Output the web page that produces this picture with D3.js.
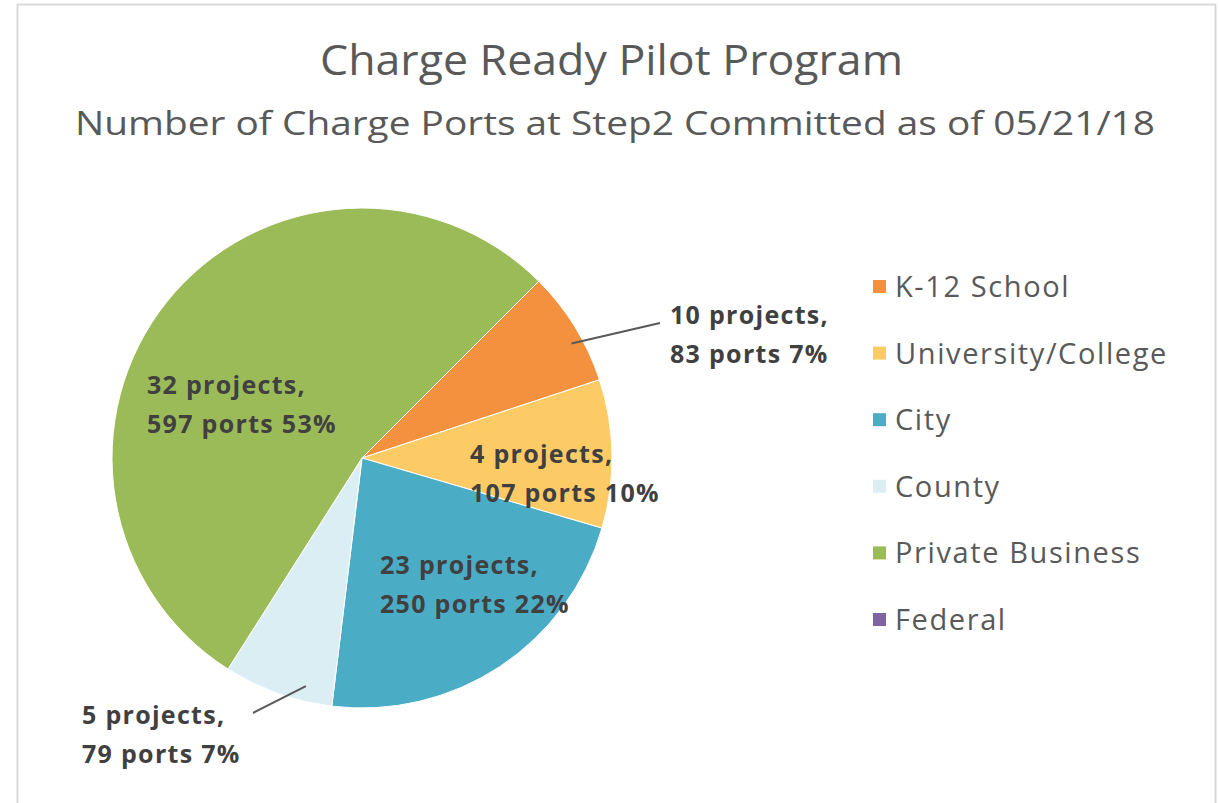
<!DOCTYPE html>
<html>
<head>
<meta charset="utf-8">
<script src="https://cdn.jsdelivr.net/npm/d3@7"></script>
<style>
  body { margin: 0; background: #fff; }
  text { font-family: "Open Sans", "Noto Sans", sans-serif; }
</style>
</head>
<body>
<div id="container"></div>
<script>
// DATA ###############################
const categories = ["K-12 School", "University/College", "City", "County", "Private Business", "Federal"];
const ports = [83, 107, 250, 79, 597, 0];
const projects = [10, 4, 23, 5, 32, 0];
const percents = ["7%", "10%", "22%", "7%", "53%", "0%"];
const colors = ["#F4913E", "#FDCB66", "#4BACC6", "#DAEEF3", "#9BBB59", "#8064A2"];

// CONSTANTS ###############################
const width = 1219, height = 803;
const cx = 362, cy = 458, radius = 250;

// label anchors (left x, first-line baseline) and leader line details
const labelLayout = {
  "K-12 School": { x: 670, y: 324, leader: { frac: 0.61, r: 0.955, x2: 660, y2: 323 } },
  "University/College": { x: 470, y: 463 },
  "City": { x: 380, y: 574 },
  "County": { x: 82, y: 724, leader: { frac: 0.27, r: 0.94, x2: 253, y2: 713 } },
  "Private Business": { x: 147, y: 394 }
};

const data = categories.map((c, i) => ({
  cat: c, ports: ports[i], projects: projects[i], pct: percents[i], color: colors[i]
}));

const svg = d3.select("#container")
  .append("svg")
  .attr("width", width)
  .attr("height", height);

svg.append("rect")
  .attr("width", width).attr("height", height).attr("fill", "#fff");

// chart frame
svg.append("rect")
  .attr("x", 17.5).attr("y", 4.5)
  .attr("width", 1198).attr("height", 820)
  .attr("fill", "none").attr("stroke", "#d9d9d9").attr("stroke-width", 2);

// TITLES
svg.append("text")
  .attr("x", 320).attr("y", 75)
  .attr("font-size", 42)
  .attr("fill", "#595959")
  .attr("textLength", 583)
  .attr("lengthAdjust", "spacingAndGlyphs")
  .text("Charge Ready Pilot Program");

svg.append("text")
  .attr("x", 75).attr("y", 135)
  .attr("font-size", 32)
  .attr("fill", "#595959")
  .attr("textLength", 1080)
  .attr("lengthAdjust", "spacingAndGlyphs")
  .text("Number of Charge Ports at Step2 Committed as of 05/21/18");

// PIE
const pie = d3.pie()
  .value(d => d.ports)
  .sort(null)
  .startAngle(Math.PI / 4)
  .endAngle(Math.PI / 4 + 2 * Math.PI);

const arc = d3.arc().innerRadius(0).outerRadius(radius);
const arcs = pie(data);

const g = svg.append("g").attr("transform", `translate(${cx},${cy})`);

g.selectAll("path.slice")
  .data(arcs.filter(d => d.data.ports > 0))
  .join("path")
  .attr("class", "slice")
  .attr("d", arc)
  .attr("fill", d => d.data.color)
  .attr("stroke", "#fff")
  .attr("stroke-width", 1);

// LEADER LINES
arcs.filter(d => d.data.ports > 0 && labelLayout[d.data.cat].leader).forEach(d => {
  const ld = labelLayout[d.data.cat].leader;
  const a = d.startAngle + ld.frac * (d.endAngle - d.startAngle);
  const r0 = radius * ld.r;
  svg.append("line")
    .attr("x1", cx + r0 * Math.sin(a)).attr("y1", cy - r0 * Math.cos(a))
    .attr("x2", ld.x2).attr("y2", ld.y2)
    .attr("stroke", "#595959").attr("stroke-width", 2);
});

// DATA LABELS
arcs.filter(d => d.data.ports > 0).forEach(d => {
  const L = labelLayout[d.data.cat];
  const t = svg.append("text")
    .attr("x", L.x).attr("y", L.y)
    .attr("font-size", 25)
    .attr("font-weight", "bold")
    .attr("letter-spacing", 1.3)
    .attr("fill", "#404040");
  t.append("tspan").attr("x", L.x).attr("dy", 0)
    .text(`${d.data.projects} projects,`);
  t.append("tspan").attr("x", L.x).attr("dy", 39)
    .text(`${d.data.ports} ports ${d.data.pct}`);
});

// LEGEND
const legend = svg.append("g").attr("transform", "translate(873,287)");
const row = legend.selectAll("g")
  .data(data)
  .join("g")
  .attr("transform", (d, i) => `translate(0,${i * 66.6})`);

row.append("rect")
  .attr("x", 0).attr("y", -7)
  .attr("width", 13).attr("height", 13)
  .attr("fill", d => d.color);

row.append("text")
  .attr("x", 22).attr("y", 10)
  .attr("font-size", 29)
  .attr("letter-spacing", 1.6)
  .attr("fill", "#595959")
  .text(d => d.cat);
</script>
</body>
</html>
